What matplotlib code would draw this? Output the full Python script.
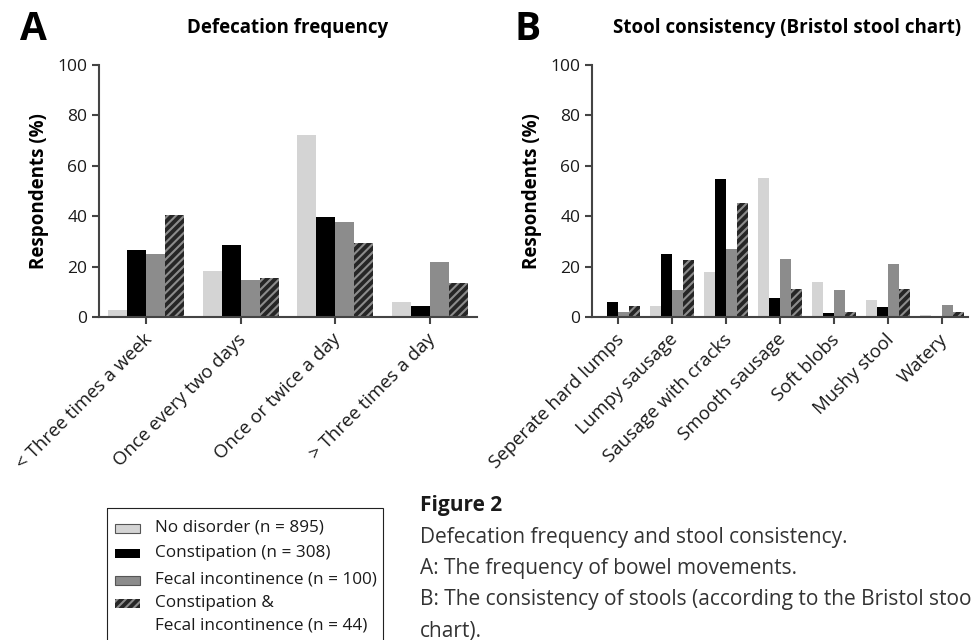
import matplotlib

matplotlib.use("Agg")
import matplotlib.pyplot as plt
import matplotlib.transforms as mtransforms
import numpy as np
from matplotlib.patches import Rectangle

plt.rcParams["font.family"] = ["Open Sans", "DejaVu Sans"]
plt.rcParams["hatch.linewidth"] = 1.5

# --- data (percent of respondents) ---
groups = [
    "No disorder (n = 895)",
    "Constipation (n = 308)",
    "Fecal incontinence (n = 100)",
    "Constipation &\nFecal incontinence (n = 44)",
]

freq_cats = ["< Three times a week", "Once every two days",
             "Once or twice a day", "> Three times a day"]
freq_none = [2.6, 18.1, 72.2, 5.8]
freq_const = [26.5, 28.5, 39.7, 4.2]
freq_fecal = [24.9, 14.6, 37.6, 21.7]
freq_both = [40.4, 15.4, 29.4, 13.4]

stool_cats = ["Seperate hard lumps", "Lumpy sausage", "Sausage with cracks",
              "Smooth sausage", "Soft blobs", "Mushy stool", "Watery"]
stool_none = [0.0, 4.2, 17.7, 55.1, 13.8, 6.6, 0.7]
stool_const = [5.8, 24.9, 54.7, 7.4, 1.5, 3.8, 0.0]
stool_fecal = [1.9, 10.6, 26.9, 22.9, 10.6, 20.9, 4.6]
stool_both = [4.2, 22.5, 45.3, 11.1, 1.9, 11.1, 1.9]

styles = [
    dict(facecolor="#d4d4d4", edgecolor="none"),
    dict(facecolor="#000000", edgecolor="none"),
    dict(facecolor="#8c8c8c", edgecolor="none"),
    dict(facecolor="#262626", edgecolor="#8c8c8c", hatch="////", linewidth=0),
]

AXIS_COL = "#444444"
W, H = 971, 640


def grouped_bars(ax, cats, series, xpad):
    x = np.arange(len(cats))
    w = 0.2
    for i, (vals, st) in enumerate(zip(series, styles)):
        ax.bar(x + (i - 1.5) * w, vals, width=w, **st)
    ax.set_xlim(-xpad, len(cats) - 1 + xpad)
    ax.set_ylim(0, 100)
    for side in ("top", "right"):
        ax.spines[side].set_visible(False)
    for side in ("left", "bottom"):
        ax.spines[side].set_color(AXIS_COL)
        ax.spines[side].set_linewidth(1.5)
    # tick_params resets label transforms, so it goes before the label shift
    ax.tick_params(axis="both", colors=AXIS_COL, width=1.5, length=5,
                   labelcolor="#1a1a1a")
    ax.tick_params(axis="y", labelsize=12.5)
    ax.set_yticks(range(0, 101, 20))
    ax.set_xticks(x)
    ax.set_xticklabels(cats, rotation=45, ha="right", va="center",
                       rotation_mode="anchor", fontsize=13.4)
    shift = mtransforms.ScaledTranslation(3 / 100, -8 / 100, ax.figure.dpi_scale_trans)
    for lab in ax.get_xticklabels():
        lab.set_transform(lab.get_transform() + shift)
    ax.set_ylabel("Respondents (%)", fontsize=13.5, fontweight="bold", labelpad=6)


fig = plt.figure(figsize=(W / 100, H / 100), dpi=100)
# pixel coordinates measured from the top-left corner of the figure
px = mtransforms.Affine2D().scale(1 / W, -1 / H).translate(0, 1) + fig.transFigure

ax_a = fig.add_axes([99 / W, 1 - 317 / H, 378 / W, 252 / H])
ax_b = fig.add_axes([592 / W, 1 - 317 / H, 376 / W, 252 / H])

grouped_bars(ax_a, freq_cats, [freq_none, freq_const, freq_fecal, freq_both], 0.5)
grouped_bars(ax_b, stool_cats, [stool_none, stool_const, stool_fecal, stool_both], 0.48)

fig.text(20, 29, "A", fontsize=28, fontweight="bold", va="center", transform=px)
fig.text(514, 29, "B", fontsize=28, fontweight="bold", va="center", transform=px)
fig.text(288, 28, "Defecation frequency", fontsize=13.5,
         fontweight="bold", ha="center", va="center", transform=px)
fig.text(787, 28, "Stool consistency (Bristol stool chart)",
         fontsize=13.5, fontweight="bold", ha="center", va="center", transform=px)

# legend box, running off the bottom edge like the original
fig.patches.append(Rectangle((107, 508), 276, 140, transform=px, fill=False,
                             edgecolor="#222222", linewidth=0.8, clip_on=False))
entry_y = [528, 553, 580, 603]
for label, st, yc in zip(groups, styles, entry_y):
    patch = Rectangle((115, yc - 4.5), 25, 9, transform=px, **st)
    if st["facecolor"] in ("#d4d4d4", "#8c8c8c"):
        patch.set_edgecolor("#555555")
        patch.set_linewidth(0.8)
    fig.patches.append(patch)
    for j, part in enumerate(label.split("\n")):
        fig.text(155, yc + 22 * j, part, fontsize=12.3, va="center",
                 color="#1a1a1a", transform=px)

caption = [
    "Defecation frequency and stool consistency.",
    "A: The frequency of bowel movements.",
    "B: The consistency of stools (according to the Bristol stool chart).",
]
fig.text(420, 505, "Figure 2", fontsize=15, fontweight="bold",
         va="center", color="#1a1a1a", transform=px)
for k, line in enumerate(caption):
    fig.text(420, 537 + 31.5 * k, line, fontsize=15,
             va="center", color="#333333", transform=px)
fig.text(420, 631, "chart).", fontsize=15, va="center", color="#333333", transform=px)

fig.savefig("out.png", dpi=100)
